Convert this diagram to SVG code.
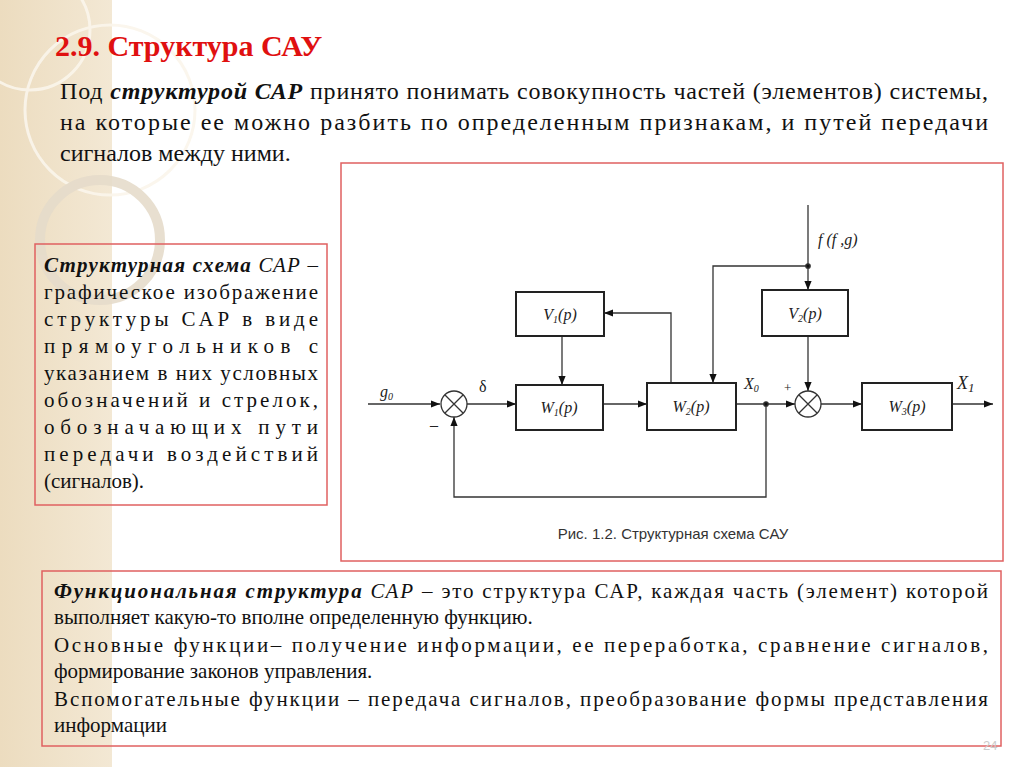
<svg xmlns="http://www.w3.org/2000/svg" width="1024" height="767" viewBox="0 0 1024 767">
<defs>
<linearGradient id="bg" x1="0" y1="0" x2="1" y2="0"><stop offset="0" stop-color="#ecdcbf"/><stop offset="1" stop-color="#f3e8d4"/></linearGradient>
<marker id="ar" viewBox="0 0 10 10" refX="10" refY="5" markerWidth="9" markerHeight="9" markerUnits="userSpaceOnUse" orient="auto"><path d="M0,1 L10,5 L0,9 z" fill="#111"/></marker>
<style>
.t{font-family:'Liberation Serif','Times New Roman','DejaVu Serif',serif;font-size:24px;fill:#111}
.m{font-family:'Liberation Serif','Times New Roman','DejaVu Serif',serif;font-size:16px;font-style:italic;fill:#222}
.b{fill:#fff;stroke:#222;stroke-width:2}
.c{fill:none;stroke:#333;stroke-width:1.3}
.f{fill:none;stroke:#e06060;stroke-width:1.5}
</style>
</defs>
<rect width="1024" height="767" fill="#fff"/>
<rect width="112" height="767" fill="url(#bg)"/>
<g fill="none" stroke="#fbf6ec" stroke-width="3" opacity="0.9">
<circle cx="110" cy="110" r="85"/>
<circle cx="100" cy="240" r="60" stroke-width="10" stroke="#e6dccb"/>
<circle cx="30" cy="30" r="60"/>
</g>
<text class="t" x="55" y="56" font-weight="bold" style="fill:#e01010;font-size:30px">2.9. Структура САУ</text>
<text class="t" x="60" y="99" textLength="928" lengthAdjust="spacing">Под <tspan font-weight="bold" font-style="italic">структурой САР</tspan> принято понимать совокупность частей (элементов) системы,</text>
<text class="t" x="60" y="130" textLength="928" lengthAdjust="spacing">на которые ее можно разбить по определенным признакам, и путей передачи</text>
<text class="t" x="60" y="161">сигналов между ними.</text>
<rect class="f" x="341" y="163" width="662" height="398"/>
<rect class="f" x="35" y="244" width="292" height="261"/>
<g class="t" style="font-size:21px">
<text x="44" y="272" textLength="274" lengthAdjust="spacing"><tspan font-weight="bold" font-style="italic">Структурная схема</tspan> <tspan font-style="italic">САР</tspan> –</text>
<text x="44" y="299" textLength="274" lengthAdjust="spacing">графическое изображение</text>
<text x="44" y="326" textLength="274" lengthAdjust="spacing">структуры САР в виде</text>
<text x="44" y="353" textLength="274" lengthAdjust="spacing">прямоугольников с</text>
<text x="44" y="380" textLength="274" lengthAdjust="spacing">указанием в них условных</text>
<text x="44" y="407" textLength="274" lengthAdjust="spacing">обозначений и стрелок,</text>
<text x="44" y="434" textLength="274" lengthAdjust="spacing">обозначающих пути</text>
<text x="44" y="461" textLength="274" lengthAdjust="spacing">передачи воздействий</text>
<text x="44" y="488">(сигналов).</text>
</g>
<rect class="f" x="42" y="571" width="959" height="175"/>
<g class="t" style="font-size:21px">
<text x="54" y="598" textLength="934" lengthAdjust="spacing"><tspan font-weight="bold" font-style="italic">Функциональная структура</tspan> <tspan font-style="italic">САР</tspan> – это структура САР, каждая часть (элемент) которой</text>
<text x="54" y="624">выполняет какую-то вполне определенную функцию.</text>
<text x="54" y="652" textLength="934" lengthAdjust="spacing">Основные функции– получение информации, ее переработка, сравнение сигналов,</text>
<text x="54" y="678">формирование законов управления.</text>
<text x="54" y="706" textLength="934" lengthAdjust="spacing">Вспомогательные функции – передача сигналов, преобразование формы представления</text>
<text x="54" y="732">информации</text>
</g>
<text x="983" y="750" font-family="Liberation Sans,sans-serif" font-size="13" fill="#ccc">24</text>
<g id="connectors" class="c">
<path d="M368,404 H440" marker-end="url(#ar)"/>
<path d="M467,404 H516" marker-end="url(#ar)"/>
<path d="M603,404 H647" marker-end="url(#ar)"/>
<path d="M736,404 H795" marker-end="url(#ar)"/>
<path d="M821,404 H862" marker-end="url(#ar)"/>
<path d="M952,404 H993" marker-end="url(#ar)"/>
<path d="M766,404 V497 H454 V417" marker-end="url(#ar)"/>
<path d="M808,205 V290" marker-end="url(#ar)"/>
<path d="M808,266 H713 V383" marker-end="url(#ar)"/>
<path d="M671,383 V313 H604" marker-end="url(#ar)"/>
<path d="M562,336 V385" marker-end="url(#ar)"/>
<path d="M808,336 V391" marker-end="url(#ar)"/>
<circle cx="766" cy="404" r="2.2" fill="#111"/>
<circle cx="808" cy="266" r="2.2" fill="#111"/>
</g>
<g id="sum1"><circle class="c" cx="454" cy="404" r="13" fill="#fff"/><path class="c" d="M445,395 L463,413 M463,395 L445,413"/></g>
<g id="sum2"><circle class="c" cx="808" cy="404" r="13" fill="#fff"/><path class="c" d="M799,395 L817,413 M817,395 L799,413"/></g>
<g id="W1"><rect class="b" x="516" y="385" width="87" height="45"/><text class="m" x="559" y="413" text-anchor="middle">W<tspan font-size="10" dy="3">1</tspan><tspan dy="-3">(p)</tspan></text></g>
<g id="W2"><rect class="b" x="647" y="383" width="89" height="47"/><text class="m" x="691" y="412" text-anchor="middle">W<tspan font-size="10" dy="3">2</tspan><tspan dy="-3">(p)</tspan></text></g>
<g id="W3"><rect class="b" x="862" y="383" width="90" height="47"/><text class="m" x="907" y="412" text-anchor="middle">W<tspan font-size="10" dy="3">3</tspan><tspan dy="-3">(p)</tspan></text></g>
<g id="V1"><rect class="b" x="516" y="292" width="88" height="44"/><text class="m" x="560" y="320" text-anchor="middle">V<tspan font-size="10" dy="3">1</tspan><tspan dy="-3">(p)</tspan></text></g>
<g id="V2"><rect class="b" x="762" y="290" width="86" height="46"/><text class="m" x="805" y="319" text-anchor="middle">V<tspan font-size="10" dy="3">2</tspan><tspan dy="-3">(p)</tspan></text></g>
<g class="m">
<text x="380" y="397">g<tspan font-size="10" dy="3">0</tspan></text>
<text x="479" y="392" font-style="normal">δ</text>
<text x="430" y="430" font-style="normal">–</text>
<text x="744" y="389">X<tspan font-size="10" dy="3">0</tspan></text>
<text x="784" y="392" font-style="normal" font-size="13">+</text>
<text x="957" y="389" font-size="18">X<tspan font-size="13" dy="3">1</tspan></text>
<text x="818" y="245">f (f ,g)</text>
</g>
<text x="673" y="539" text-anchor="middle" font-family="Liberation Sans,sans-serif" font-size="15" fill="#333">Рис. 1.2. Структурная схема САУ</text>
</svg>
